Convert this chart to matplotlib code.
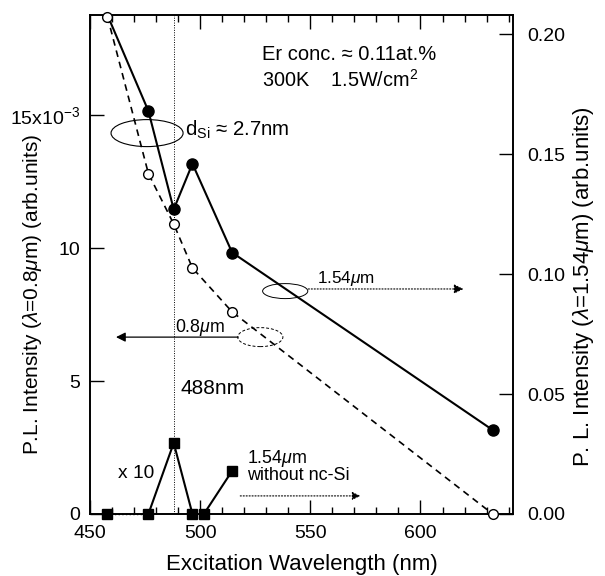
import matplotlib
matplotlib.use("Agg")
import matplotlib.pyplot as plt
from matplotlib.patches import Ellipse
from matplotlib.ticker import MultipleLocator

plt.rcParams['font.family'] = ['Liberation Sans', 'DejaVu Sans']
plt.rcParams['mathtext.fontset'] = 'custom'
plt.rcParams['mathtext.rm'] = 'Liberation Sans'
plt.rcParams['mathtext.it'] = 'Liberation Sans:italic'

# Data
wl = [457.9, 476.5, 488.0, 496.5, 514.5, 632.8]
pl_154 = [0.208, 0.168, 0.127, 0.146, 0.109, 0.035]          # right axis, filled circles
pl_08 = [18.7e-3, 12.8e-3, 10.9e-3, 9.25e-3, 7.6e-3, 0.0]     # left axis, open circles
wl_nosi = [457.9, 476.5, 488.0, 496.5, 501.7, 514.5]
pl_nosi = [0.0, 0.0, 2.67e-3, 0.0, 0.0, 1.62e-3]              # left axis, squares (x10)

fig = plt.figure(figsize=(6.05, 5.76), dpi=100)
ax = fig.add_axes([90/605, 62/576, 423/605, 499/576])
ax2 = ax.twinx()

ax.set_xlim(450, 642)
ax.set_ylim(0, 18.76e-3)
ax2.set_ylim(0, 0.208)

# vertical 488 line
ax.axvline(488, color='black', lw=0.7, ls=(0, (1, 1.5)), zorder=1)

# 0.8 um: dashed, open circles
ax.plot(wl, pl_08, ls=(0, (4, 3)), color='black', lw=1.2, zorder=3)
ax.plot(wl, pl_08, ls='none', marker='o', ms=7, mfc='white', mec='black', mew=1.0, zorder=6, clip_on=False)

# 1.54 um: solid, filled circles
ax2.plot(wl, pl_154, ls='-', color='black', lw=1.5, zorder=3)
ax2.plot(wl[1:], pl_154[1:], ls='none', marker='o', ms=8, color='black', zorder=4, clip_on=False)

# without nc-Si squares
ax.plot(wl_nosi[0:2], pl_nosi[0:2], ls=':', color='black', lw=1.0, zorder=3, clip_on=False)
ax.plot(wl_nosi[1:4], pl_nosi[1:4], ls='-', color='black', lw=1.5, zorder=3, clip_on=False)
ax.plot(wl_nosi[4:6], pl_nosi[4:6], ls='-', color='black', lw=1.5, zorder=3, clip_on=False)
ax.plot(wl_nosi, pl_nosi, ls='none', marker='s', ms=6.5, color='black', zorder=5, clip_on=False)

# make ax above ax2 for open circles
ax.set_zorder(ax2.get_zorder() + 1)
ax.patch.set_visible(False)

# ticks
tfs = 14
ax.set_xticks([450, 500, 550, 600])
ax.xaxis.set_minor_locator(MultipleLocator(10))
ax.set_yticks([0, 5e-3, 10e-3, 15e-3])
ax.set_yticklabels(['0', '5', '10', '15x10$^{-3}$'])
ax.tick_params(axis='x', which='major', direction='in', length=10, width=1.0, top=True, labelsize=tfs, pad=8)
ax.tick_params(axis='x', which='minor', direction='in', length=5, width=1.0, top=True)
ax.tick_params(axis='y', which='major', direction='in', length=10, width=1.0, labelsize=tfs, pad=7)
ax2.set_yticks([0, 0.05, 0.10, 0.15, 0.20])
ax2.set_yticklabels(['0.00', '0.05', '0.10', '0.15', '0.20'])
ax2.tick_params(axis='y', which='major', direction='in', length=10, width=1.0, labelsize=tfs, pad=10)
for a in (ax, ax2):
    for s in a.spines.values():
        s.set_linewidth(1.2)

ax.set_xlabel('Excitation Wavelength (nm)', fontsize=16)
ax.xaxis.set_label_coords(0.5, -0.080)
ax.set_ylabel('P.L. Intensity ($\\lambda$=0.8$\\mu$m) (arb.units)', fontsize=15)
ax.yaxis.set_label_coords(-0.109, 0.441)
ax2.set_ylabel('P. L. Intensity ($\\lambda$=1.54$\\mu$m) (arb.units)', fontsize=16)
ax2.yaxis.set_label_coords(1.137, 0.455)

# annotations
ax.text(528.2, 17.26e-3, 'Er conc. \u2248 0.11at.%', fontsize=14.5, va='center', ha='left')
ax.text(528.2, 16.32e-3, '300K    1.5W/cm$^2$', fontsize=14.3, va='center', ha='left')
ax.text(493.2, 14.44e-3, 'd$_{\\mathrm{Si}}$ \u2248 2.7nm', fontsize=14.7, va='center', ha='left')
ax.text(553.2, 8.87e-3, '1.54$\\mu$m', fontsize=12.3, va='center', ha='left')
ax.text(488.6, 7.03e-3, '0.8$\\mu$m', fontsize=12.8, va='center', ha='left')
ax.text(490.9, 4.70e-3, '488nm', fontsize=15, va='center', ha='left')
ax.text(462.7, 1.54e-3, 'x 10', fontsize=13.8, va='center', ha='left')
ax.text(521.4, 1.80e-3, '1.54$\\mu$m\nwithout nc-Si', fontsize=12.9, va='center', ha='left', linespacing=0.9)

ax.add_patch(Ellipse((475.9, 14.32e-3), 32.7, 1.015e-3, fill=False, lw=0.8, color='black'))
ax.add_patch(Ellipse((538.6, 8.38e-3), 20.5, 0.564e-3, fill=False, lw=0.7, color='black'))
ax.add_patch(Ellipse((527.3, 6.65e-3), 20.5, 0.714e-3, fill=False, lw=0.7, color='black', ls=(0, (3, 2))))

ax.annotate('', xy=(619.5, 8.46e-3), xytext=(549.1, 8.46e-3),
            arrowprops=dict(arrowstyle='-|>', lw=0.8, ls=':', color='black', mutation_scale=14, shrinkA=0, shrinkB=0))
ax.annotate('', xy=(461.8, 6.65e-3), xytext=(517.3, 6.65e-3),
            arrowprops=dict(arrowstyle='-|>', lw=0.9, color='black', mutation_scale=14, shrinkA=0, shrinkB=0))
ax.annotate('', xy=(572.7, 0.68e-3), xytext=(518.2, 0.68e-3),
            arrowprops=dict(arrowstyle='-|>', lw=0.8, ls=':', color='black', mutation_scale=12, shrinkA=0, shrinkB=0))

fig.savefig('out.png', dpi=100)
